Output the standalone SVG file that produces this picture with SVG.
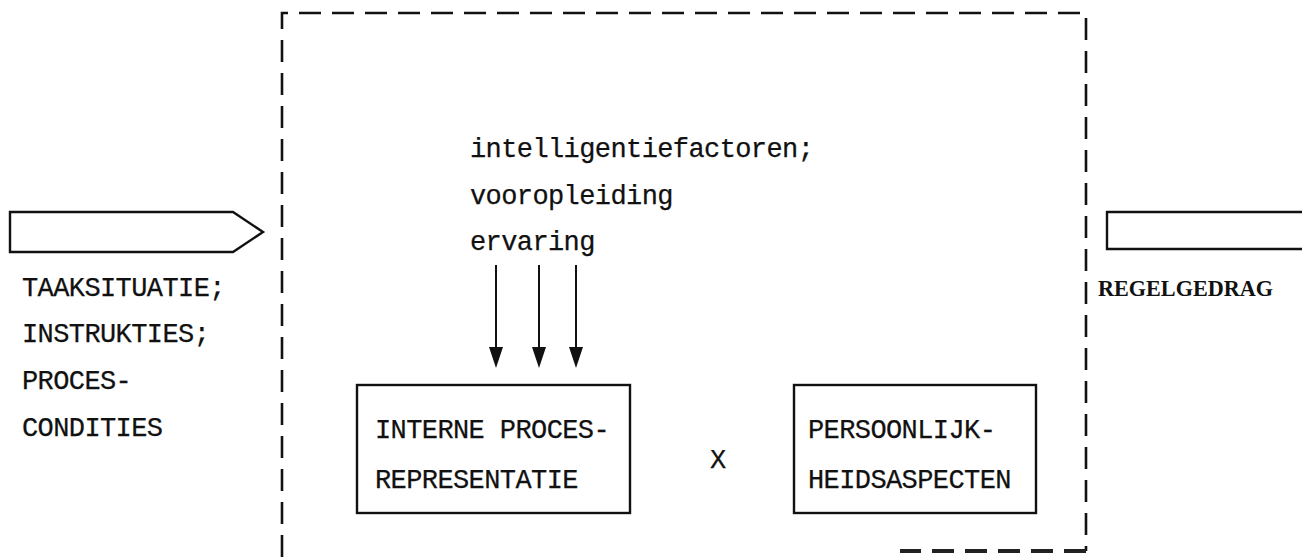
<svg xmlns="http://www.w3.org/2000/svg" width="1302" height="557" viewBox="0 0 1302 557">
<defs>
<style>
.t{font-family:"Liberation Mono","Courier New",monospace;font-size:27px;fill:#111;stroke:#111;stroke-width:0.25;letter-spacing:-0.6px}
.b{font-family:"Liberation Serif","Times New Roman",serif;font-size:24px;font-weight:bold;fill:#111}
.dash{fill:none;stroke:#111;stroke-width:2.6;stroke-dasharray:22 11}
.box{fill:none;stroke:#111;stroke-width:2.4}
.ln{stroke:#111;stroke-width:2;fill:none}
</style>
</defs>
<rect width="1302" height="557" fill="#fff"/>
<g id="boundary">
<path class="dash" d="M282,557 V13 H1086 V551"/>
<path fill="none" stroke="#222" stroke-width="4" stroke-dasharray="22 11" d="M1086,551 H900"/>
</g>
<g id="input">
<path class="box" stroke-width="3" d="M10,212 H233 L263,232 L233,252 H10 Z"/>
<text class="t" x="22" y="296">TAAKSITUATIE;</text>
<text class="t" x="22" y="342">INSTRUKTIES;</text>
<text class="t" x="22" y="389">PROCES-</text>
<text class="t" x="22" y="436">CONDITIES</text>
</g>
<g id="output">
<path class="box" stroke-width="3" d="M1310,212 H1107 V249 H1310"/>
<text class="b" x="1098" y="296" textLength="175" lengthAdjust="spacingAndGlyphs">REGELGEDRAG</text>
</g>
<g id="factors">
<text class="t" x="470" y="157">intelligentiefactoren;</text>
<text class="t" x="470" y="204">vooropleiding</text>
<text class="t" x="470" y="250">ervaring</text>
</g>
<g id="connectors">
<line class="ln" x1="496" y1="265" x2="496" y2="348"/>
<line class="ln" x1="539" y1="265" x2="539" y2="348"/>
<line class="ln" x1="576" y1="265" x2="576" y2="348"/>
<path d="M489,347 H503 L496,368 Z" fill="#111"/>
<path d="M532,347 H546 L539,368 Z" fill="#111"/>
<path d="M569,347 H583 L576,368 Z" fill="#111"/>
</g>
<g id="interne">
<rect class="box" x="357" y="385" width="273" height="128"/>
<text class="t" x="375" y="438">INTERNE PROCES-</text>
<text class="t" x="375" y="488">REPRESENTATIE</text>
</g>
<g id="times">
<text class="t" x="710" y="468">X</text>
</g>
<g id="persoon">
<rect class="box" x="794" y="385" width="242" height="128"/>
<text class="t" x="808" y="438">PERSOONLIJK-</text>
<text class="t" x="808" y="488">HEIDSASPECTEN</text>
</g>
</svg>
